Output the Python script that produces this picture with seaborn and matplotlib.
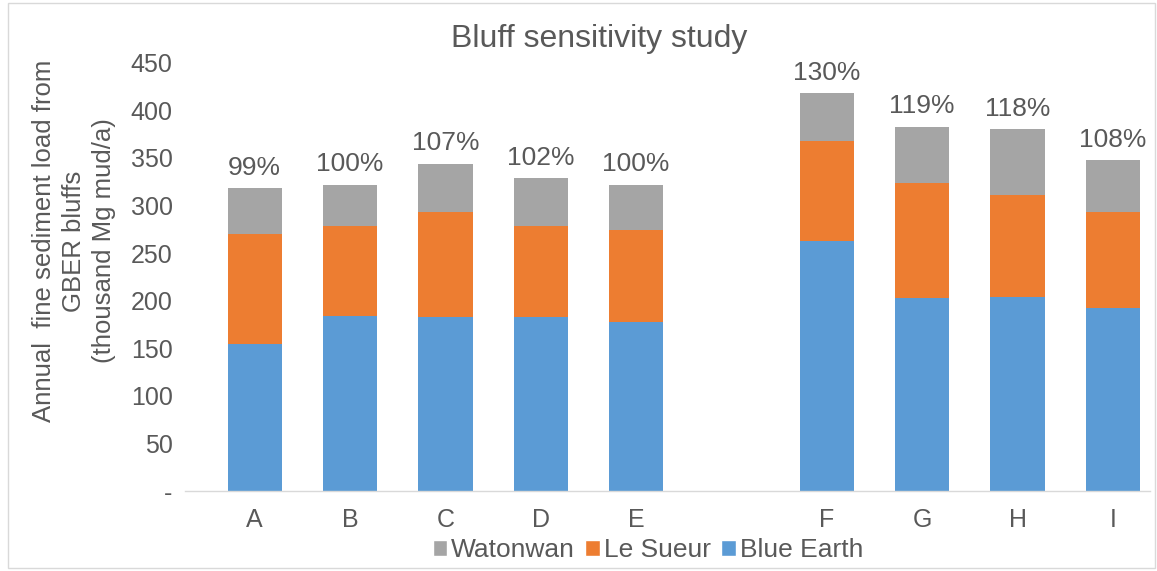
import matplotlib
matplotlib.use("Agg")
import matplotlib.pyplot as plt
from matplotlib.patches import Patch, Rectangle
import pandas as pd
import seaborn as sns

# Scenario labels (blank slot separates the two scenario groups)
scenarios = ["A", "B", "C", "D", "E", "F", "G", "H", "I"]
order = ["A", "B", "C", "D", "E", " ", "F", "G", "H", "I"]

# Annual fine sediment load per tributary (thousand Mg mud/a)
blue_earth = [155, 184, 183, 183, 178, 263, 203, 204, 192]
le_sueur = [115, 94, 110, 96, 96, 105, 121, 107, 101]
watonwan = [48, 44, 51, 50, 48, 50, 59, 69, 55]

# Load relative to the baseline run
pct_labels = ["99%", "100%", "107%", "102%", "100%", "130%", "119%", "118%", "108%"]

BLUE = "#5B9BD5"
ORANGE = "#ED7D31"
GRAY = "#A5A5A5"
TEXT = "#595959"

sns.set_theme(style="white")
plt.rcParams["font.family"] = ["Liberation Sans", "DejaVu Sans"]

df = pd.DataFrame({
    "scenario": scenarios,
    "blue": blue_earth,
    "sueur": le_sueur,
    "wat": watonwan,
})
df["lower2"] = df["blue"] + df["sueur"]
df["total"] = df["lower2"] + df["wat"]

fig = plt.figure(figsize=(11.57, 5.71), dpi=100)
ax = fig.add_axes([0.160, 0.140, 0.834, 0.750])

# Stacked bars drawn as overlapping cumulative totals
bw = 0.57
sns.barplot(data=df, x="scenario", y="total", order=order, color=GRAY,
            width=bw, linewidth=0, saturation=1, ax=ax)
sns.barplot(data=df, x="scenario", y="lower2", order=order, color=ORANGE,
            width=bw, linewidth=0, saturation=1, ax=ax)
sns.barplot(data=df, x="scenario", y="blue", order=order, color=BLUE,
            width=bw, linewidth=0, saturation=1, ax=ax)

FS = 18

# Percentage labels above each stack
for i, s in enumerate(scenarios):
    xpos = order.index(s)
    ax.annotate(pct_labels[i], (xpos, df["total"][i]), xytext=(0, 6),
                textcoords="offset points", ha="center", va="bottom",
                fontsize=19, color=TEXT)

ax.set_ylim(0, 450)
ax.set_xlim(-0.73, 9.39)
ax.set_yticks(range(0, 451, 50))
ax.set_yticklabels(["-"] + [str(v) for v in range(50, 451, 50)])
ax.set_xlabel("")
ax.set_ylabel("")
ax.tick_params(axis="y", labelsize=FS, colors=TEXT, length=0, pad=9)
ax.tick_params(axis="x", labelsize=FS, colors=TEXT, length=0, pad=12)

# Three-line axis title, set slightly above the plot's mid-height
fig.text(0.064, 0.578, "Annual  fine sediment load from\nGBER bluffs\n(thousand Mg mud/a)",
         rotation=90, ha="center", va="center", fontsize=18.5, color=TEXT,
         linespacing=1.3, multialignment="center")

for side in ["top", "right", "left"]:
    ax.spines[side].set_visible(False)
ax.spines["bottom"].set_color("#D9D9D9")
ax.spines["bottom"].set_linewidth(1.0)
ax.grid(False)

fig.text(0.518, 0.932, "Bluff sensitivity study", ha="center", va="center",
         fontsize=23, color=TEXT)

handles = [Patch(facecolor=GRAY, label="Watonwan"),
           Patch(facecolor=ORANGE, label="Le Sueur"),
           Patch(facecolor=BLUE, label="Blue Earth")]
fig.legend(handles=handles, loc="center", bbox_to_anchor=(0.56, 0.036),
           ncol=3, frameon=False, fontsize=19, handlelength=0.55,
           handleheight=0.55, handletextpad=0.15, columnspacing=0.4,
           labelcolor=TEXT)

# Light chart-area border
fig.patches.append(Rectangle((0.007, 0.005), 0.991, 0.99, transform=fig.transFigure,
                             fill=False, edgecolor="#D9D9D9", linewidth=1.0))

fig.savefig("out.png", dpi=100)
